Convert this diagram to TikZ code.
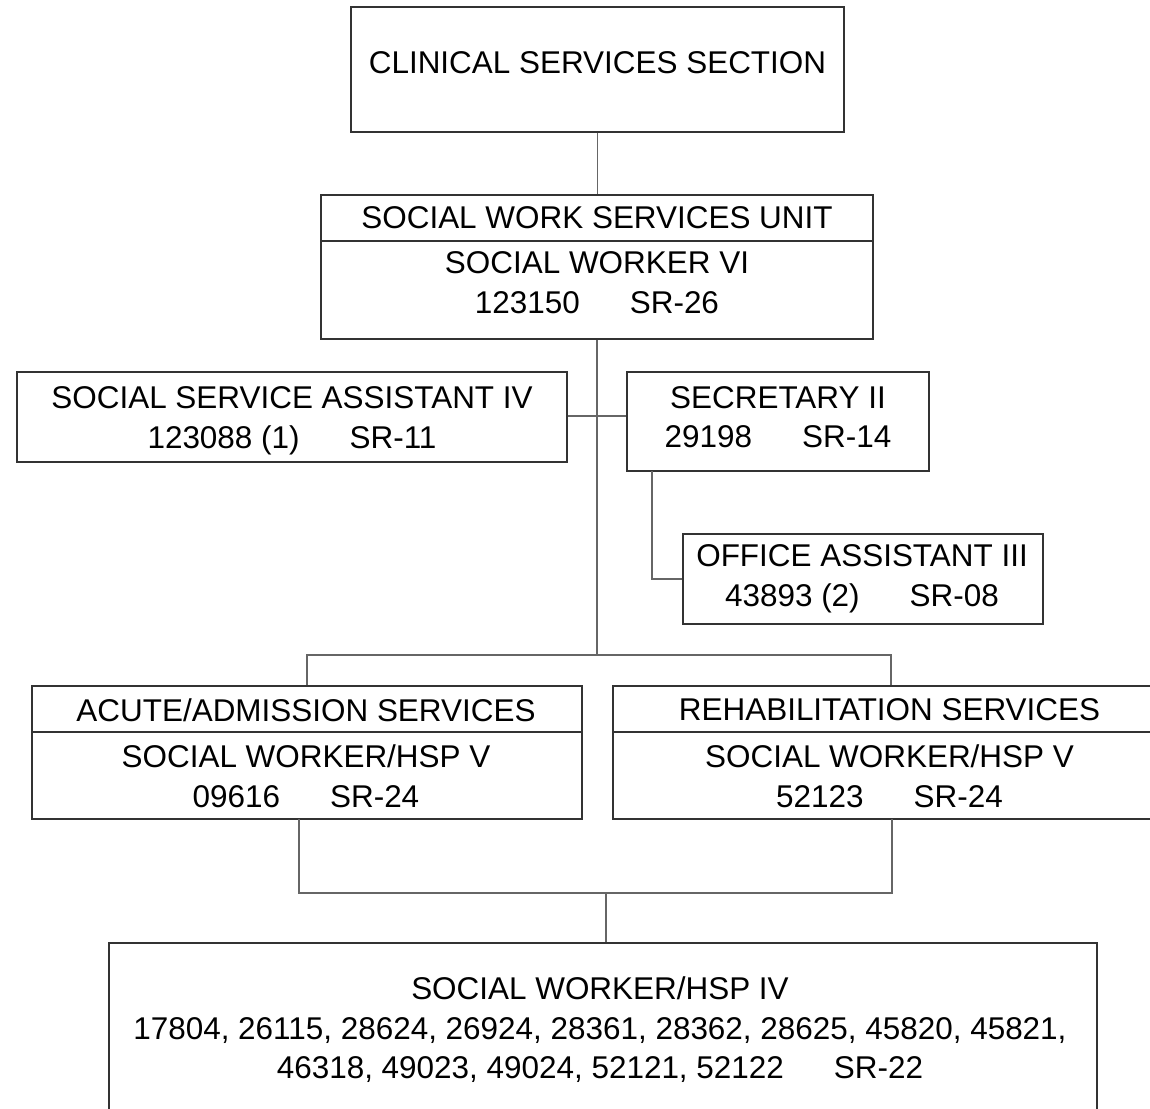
\documentclass[tikz,border=0pt]{standalone}
\usepackage{fontspec}
\setmainfont{Liberation Sans}
\tikzset{
    orgbox/.style 2 args={draw=black!80, line width=0.8pt, minimum width=#1*0.02cm, minimum height=#2*0.02cm, inner sep=0pt},
    orgtext/.style={align=center, inner sep=0pt, font=\fontsize{17.9}{22.5}\selectfont},
    link/.style={draw=black!60, line width=0.6pt}
}
\newcommand{\gap}{\hspace{1cm}}
\begin{document}
\begin{tikzpicture}[x=0.02cm,y=-0.02cm]
    \useasboundingbox (0,0) rectangle (1150,1109);
    \clip (0,0) rectangle (1150,1109);
    \node[orgbox={493}{125}] (sect) at (597.5,69.5) {};
    \node[orgtext] (sectT) at (597.5,63) {CLINICAL SERVICES SECTION};

    \node[orgbox={552}{144}] (unit) at (597,267) {};
    \node[orgtext] (unitT) at (597,218) {SOCIAL WORK SERVICES UNIT};
    \node[orgtext] (unitB) at (597,282.5) {SOCIAL WORKER VI\\123150\gap SR-26};
    \draw[black!80, line width=0.8pt] (unit.west |- 0,241) -- (unit.east |- 0,241);

    \node[orgbox={550}{90}] (ssa) at (292,417) {};
    \node[orgtext] (ssaT) at (292,421) {SOCIAL SERVICE ASSISTANT IV\\123088 (1)\gap SR-11};

    \node[orgbox={302}{99}] (sec) at (778,421.5) {};
    \node[orgtext] (secT) at (778,417) {SECRETARY II\\29198\gap SR-14};

    \node[orgbox={360}{90}] (office) at (863,579) {};
    \node[orgtext] (officeT) at (862,579) {OFFICE ASSISTANT III\\43893 (2)\gap SR-08};

    \node[orgbox={550}{133}] (acute) at (307,752.5) {};
    \node[orgtext] (acuteT) at (306,710) {ACUTE/ADMISSION SERVICES};
    \node[orgtext] (acuteB) at (306,776) {SOCIAL WORKER/HSP V\\09616\gap SR-24};
    \draw[black!80, line width=0.8pt] (acute.west |- 0,732) -- (acute.east |- 0,732);

    \node[orgbox={556}{133}] (rehab) at (891,752.5) {};
    \node[orgtext] (rehabT) at (889.5,710) {REHABILITATION SERVICES};
    \node[orgtext] (rehabB) at (889.5,776) {SOCIAL WORKER/HSP V\\52123\gap SR-24};
    \draw[black!80, line width=0.8pt] (rehab.west |- 0,732) -- (rehab.east |- 0,732);

    \node[orgbox={988}{175}] (staff) at (603,1030.5) {};
    \node[orgtext] (staffT) at (600,1030) {SOCIAL WORKER/HSP IV\\17804, 26115, 28624, 26924, 28361, 28362, 28625, 45820, 45821,\\46318, 49023, 49024, 52121, 52122\gap SR-22};

    \coordinate (branch) at (597,655);
    \coordinate (secdrop) at (652,471);
    \coordinate (acutedrop) at (299,819);
    \coordinate (rehabdrop) at (892,819);
    \coordinate (merge) at (606,893);

    \draw[link] (sect.south) -- (sect.south |- unit.north);
    \draw[link] (unit.south) -- (branch);
    \draw[link] (ssa.east |- 0,416) -- (sec.west |- 0,416);
    \draw[link] (secdrop) |- (office.west);
    \draw[link] (acute.north) |- (branch) -| (rehab.north);
    \draw[link] (acutedrop) |- (merge) -| (rehabdrop);
    \draw[link] (merge) -- (merge |- staff.north);
\end{tikzpicture}
\end{document}
